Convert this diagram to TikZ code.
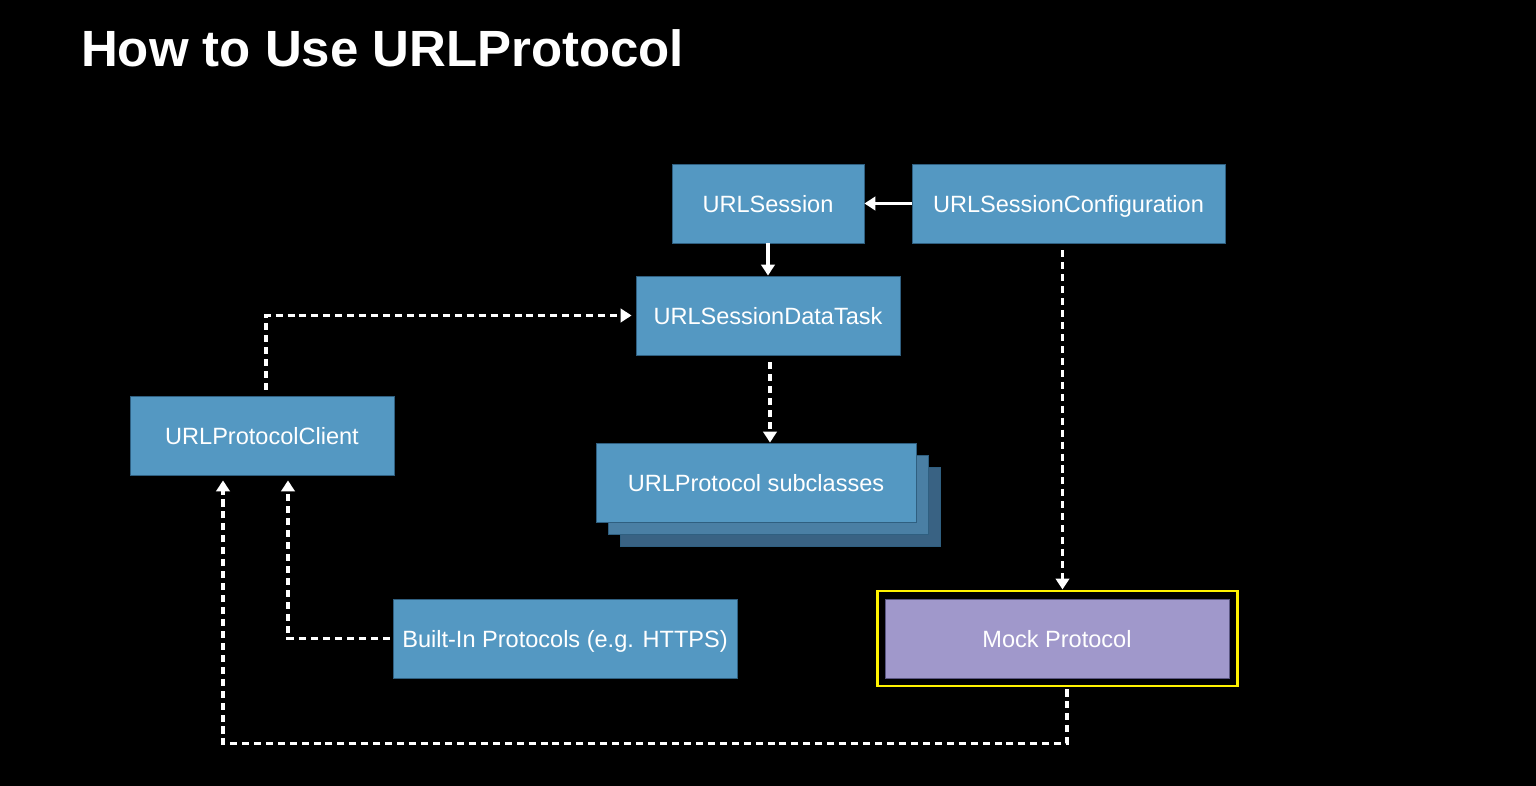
\documentclass[tikz,border=0pt]{standalone}
\usepackage{fontspec}
\setmainfont{Liberation Sans}
\usetikzlibrary{arrows.meta}
\definecolor{boxblue}{HTML}{5498C2}
\definecolor{boxedge}{HTML}{2F5F80}
\definecolor{stackmid}{HTML}{4A7FA4}
\definecolor{stackback}{HTML}{396283}
\definecolor{mockfill}{HTML}{A098CB}
\definecolor{mockedge}{HTML}{5A5682}
\newdimen\px \px=0.02cm
\tikzset{x=\px, y=-\px,
    box/.style={fill=boxblue, draw=boxedge, line width=0.5pt, text=white,
        inner sep=0pt, minimum height=79*\px, text height=1.1em, text depth=0.12em,
        font=\fontsize{13.4pt}{16pt}\selectfont},
    flow/.style={draw=white, line width=1.8pt,
        -{Triangle[width=7.6pt, length=6.2pt]}},
    dashflow/.style={flow, dash pattern=on 4pt off 2.8pt},
    }
\begin{document}
\begin{tikzpicture}
	\useasboundingbox[fill=black] (0,0) rectangle (1536,786);
	\node[anchor=base west, text=white, font=\fontsize{29pt}{34pt}\bfseries] (title) at (75,67) {How to Use URLProtocol};
	% top row
	\node[box, minimum width=192*\px] (session) at (768,203.5) {URLSession};
	\node[box, minimum width=313*\px] (config) at (1068.5,203.5) {URLSessionConfiguration};
	\node[box, minimum width=264*\px] (datatask) at (768,315.5) {URLSessionDataTask};
	\node[box, minimum width=264*\px] (client) at (262,435.5) {URLProtocolClient};
	% stacked subclasses
	\node[box, fill=stackback, minimum width=320*\px] (subback) at (780,507) {};
	\node[box, fill=stackmid, minimum width=320*\px] (submid) at (768,495) {};
	\node[box, minimum width=320*\px] (subclasses) at (756,482.5) {URLProtocol subclasses};
	% bottom row
	\node[box, minimum width=344*\px] (builtin) at (565,638.5) {Built-In Protocols (e.g. HTTPS)};
	\node[draw=yellow, line width=1.7pt, minimum width=360*\px, minimum height=95*\px] (mockframe) at (1057,638.5) {};
	\node[box, fill=mockfill, draw=mockedge, minimum width=344*\px] (mock) at (1057,638.5) {Mock Protocol};
	% connectors
	\draw[flow] (config.west) -- (session.east);
	\draw[flow] (session.south) -- (datatask.north);
	\draw[dashflow] (client.north) ++(4,-6) |- ([xshift=-4*\px]datatask.west);
	\draw[dashflow] (datatask.south) ++(2,7) -- ([xshift=2*\px]datatask.south |- subclasses.north);
	\draw[dashflow] (config.south) ++(-6,7) -- ([xshift=-6*\px]config.south |- mockframe.north);
	\draw[dashflow] (builtin.west) ++(-3,0) -| ([xshift=26*\px, yshift=-5*\px]client.south);
	\draw[dashflow] (mockframe.south) ++(10,2) -- ++(0,54) -| ([xshift=-39*\px, yshift=-5*\px]client.south);
\end{tikzpicture}
\end{document}
